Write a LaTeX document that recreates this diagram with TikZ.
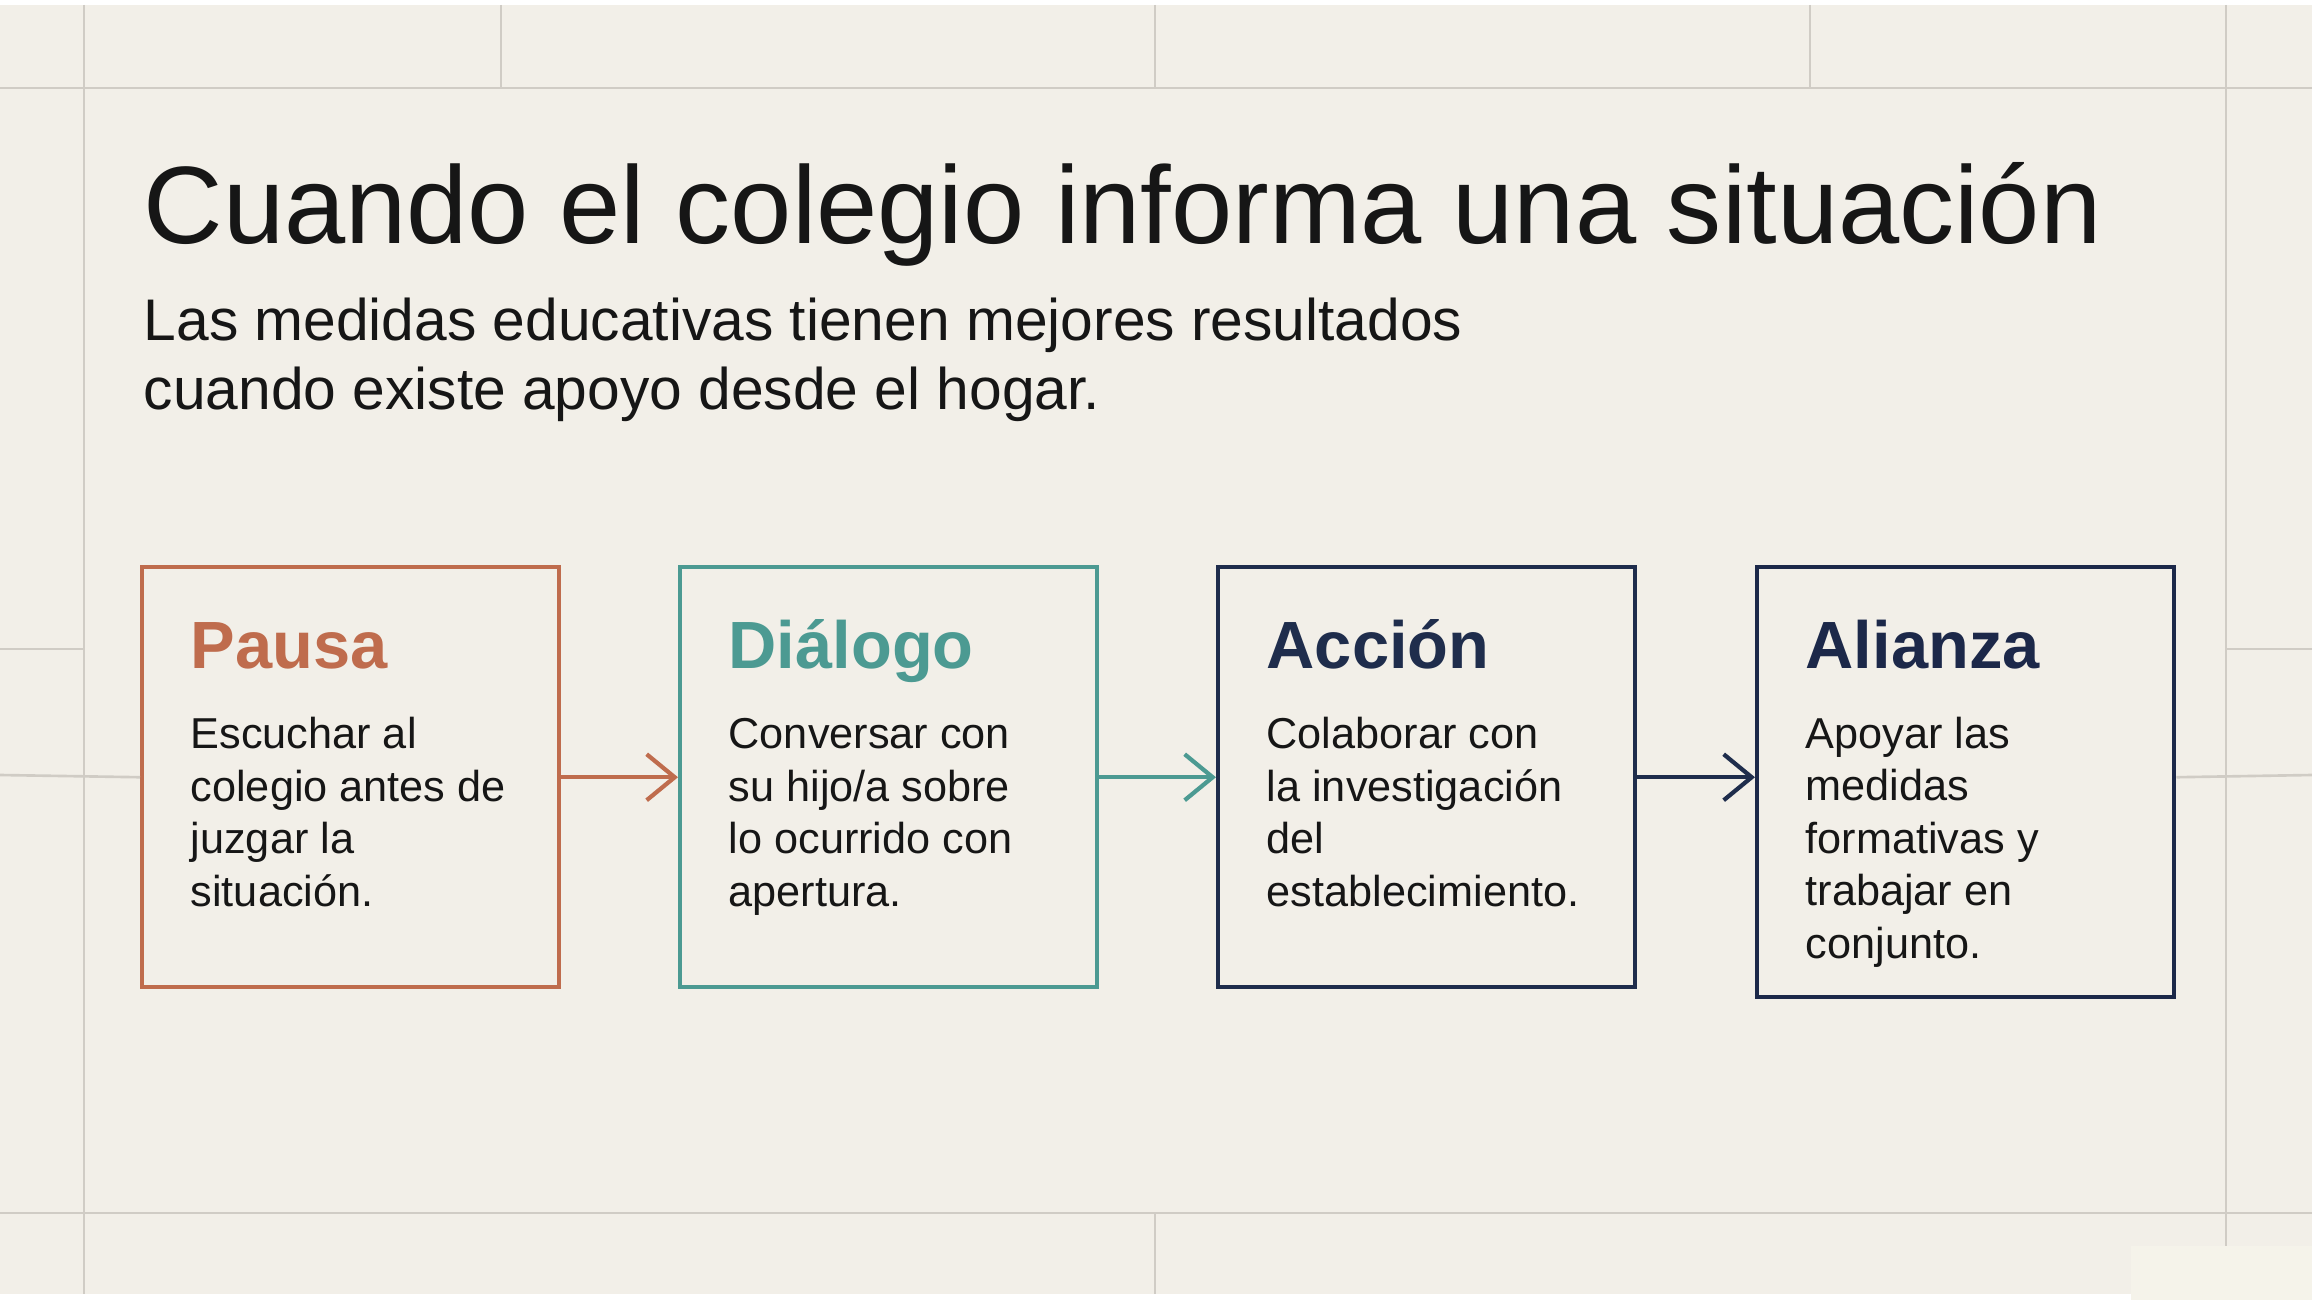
\documentclass[tikz,border=0pt]{standalone}
\usepackage{fontspec}
\setmainfont{Liberation Sans}
\usepackage{xcolor}
\usepackage{tikz}
\usetikzlibrary{positioning,arrows.meta,calc}
\definecolor{paper}{HTML}{F2EFE8}
\definecolor{paperlt}{HTML}{F5F3EA}
\definecolor{gridln}{HTML}{D0CCC5}
\definecolor{ink}{HTML}{161616}
\definecolor{cPausa}{HTML}{BF6C4D}
\definecolor{cDialogo}{HTML}{4C9A92}
\definecolor{cAccion}{HTML}{1F2D4C}
\definecolor{cAlianza}{HTML}{1C2849}

\begin{document}
\begin{tikzpicture}[x=0.01cm, y=-0.01cm,
  stepbox/.style={draw, line width=1.2pt, minimum width=4.17cm, minimum height=4.2cm,
                  inner sep=0pt, anchor=north west},
  hd/.style={anchor=base west, inner sep=0pt, font=\fontsize{19}{22}\selectfont\bfseries},
  txt/.style={anchor=base west, inner sep=0pt, align=left, text=ink,
              font=\fontsize{12.3}{14.9}\selectfont},
  arr/.style={-{Straight Barb[length=2.8mm, width=4.6mm]}, line width=1.2pt},
  gl/.style={gridln, line width=0.75pt},
]
\useasboundingbox (0,0) rectangle (2312,1300);
% paper and frame lines
\fill[white] (0,0) rectangle (2312,1300);
\fill[paper] (0,5) rectangle (2312,1294);
\fill[paperlt] (2131,1246) rectangle (2312,1300);
\draw[gl] (84,5) -- (84,1294);
\draw[gl] (2226,5) -- (2226,1246);
\foreach \x in {501,1155,1810}{ \draw[gl] (\x,5) -- (\x,88); }
\draw[gl] (1155,1213) -- (1155,1294);
\draw[gl] (0,88) -- (2312,88);
\draw[gl] (0,1213) -- (2312,1213);
\draw[gl] (0,649) -- (84,649);
\draw[gl] (2226,649) -- (2312,649);

% Heading (multi-line nodes sit on their last baseline)
\node[anchor=base west, inner sep=0pt, text=ink, font=\fontsize{31.3}{36}\selectfont]
  (title) at (143,243) {Cuando el colegio informa una situación};
\node[anchor=base west, inner sep=0pt, text=ink, align=left,
      font=\fontsize{16.7}{19.5}\selectfont] (sub) at (143,409)
  {Las medidas educativas tienen mejores resultados\\cuando existe apoyo desde el hogar.};

% Four steps
\node[stepbox, draw=cPausa] (p1) at (140,565) {};
\node[stepbox, draw=cDialogo] (p2) at (678,565) {};
\node[stepbox, draw=cAccion] (p3) at (1216,565) {};
\node[stepbox, draw=cAlianza, minimum height=4.3cm] (p4) at (1755,565) {};

\node[hd, text=cPausa] (h1) at (190,668) {Pausa};
\node[hd, text=cDialogo] (h2) at (728,668) {Diálogo};
\node[hd, text=cAccion] (h3) at (1266,668) {Acción};
\node[hd, text=cAlianza] (h4) at (1805,668) {Alianza};

\node[txt] (t1) at (190,906) {Escuchar al\\colegio antes de\\juzgar la\\situación.};
\node[txt] (t2) at (728,906) {Conversar con\\su hijo/a sobre\\lo ocurrido con\\apertura.};
\node[txt] (t3) at (1266,906) {Colaborar con\\la investigación\\del\\establecimiento.};
\node[txt] (t4) at (1805,958) {Apoyar las\\medidas\\formativas y\\trabajar en\\conjunto.};

\draw[arr, cPausa] (p1.east) -- (p2.west);
\draw[arr, cDialogo] (p2.east) -- (p3.west);
\draw[arr, cAccion] (p3.east) -- (p4.west |- p3.east);

\draw[gl] (0,775) -- (p1.west);
\draw[gl] (p4.east |- p1.east) -- (2312,775);
\end{tikzpicture}
\end{document}
